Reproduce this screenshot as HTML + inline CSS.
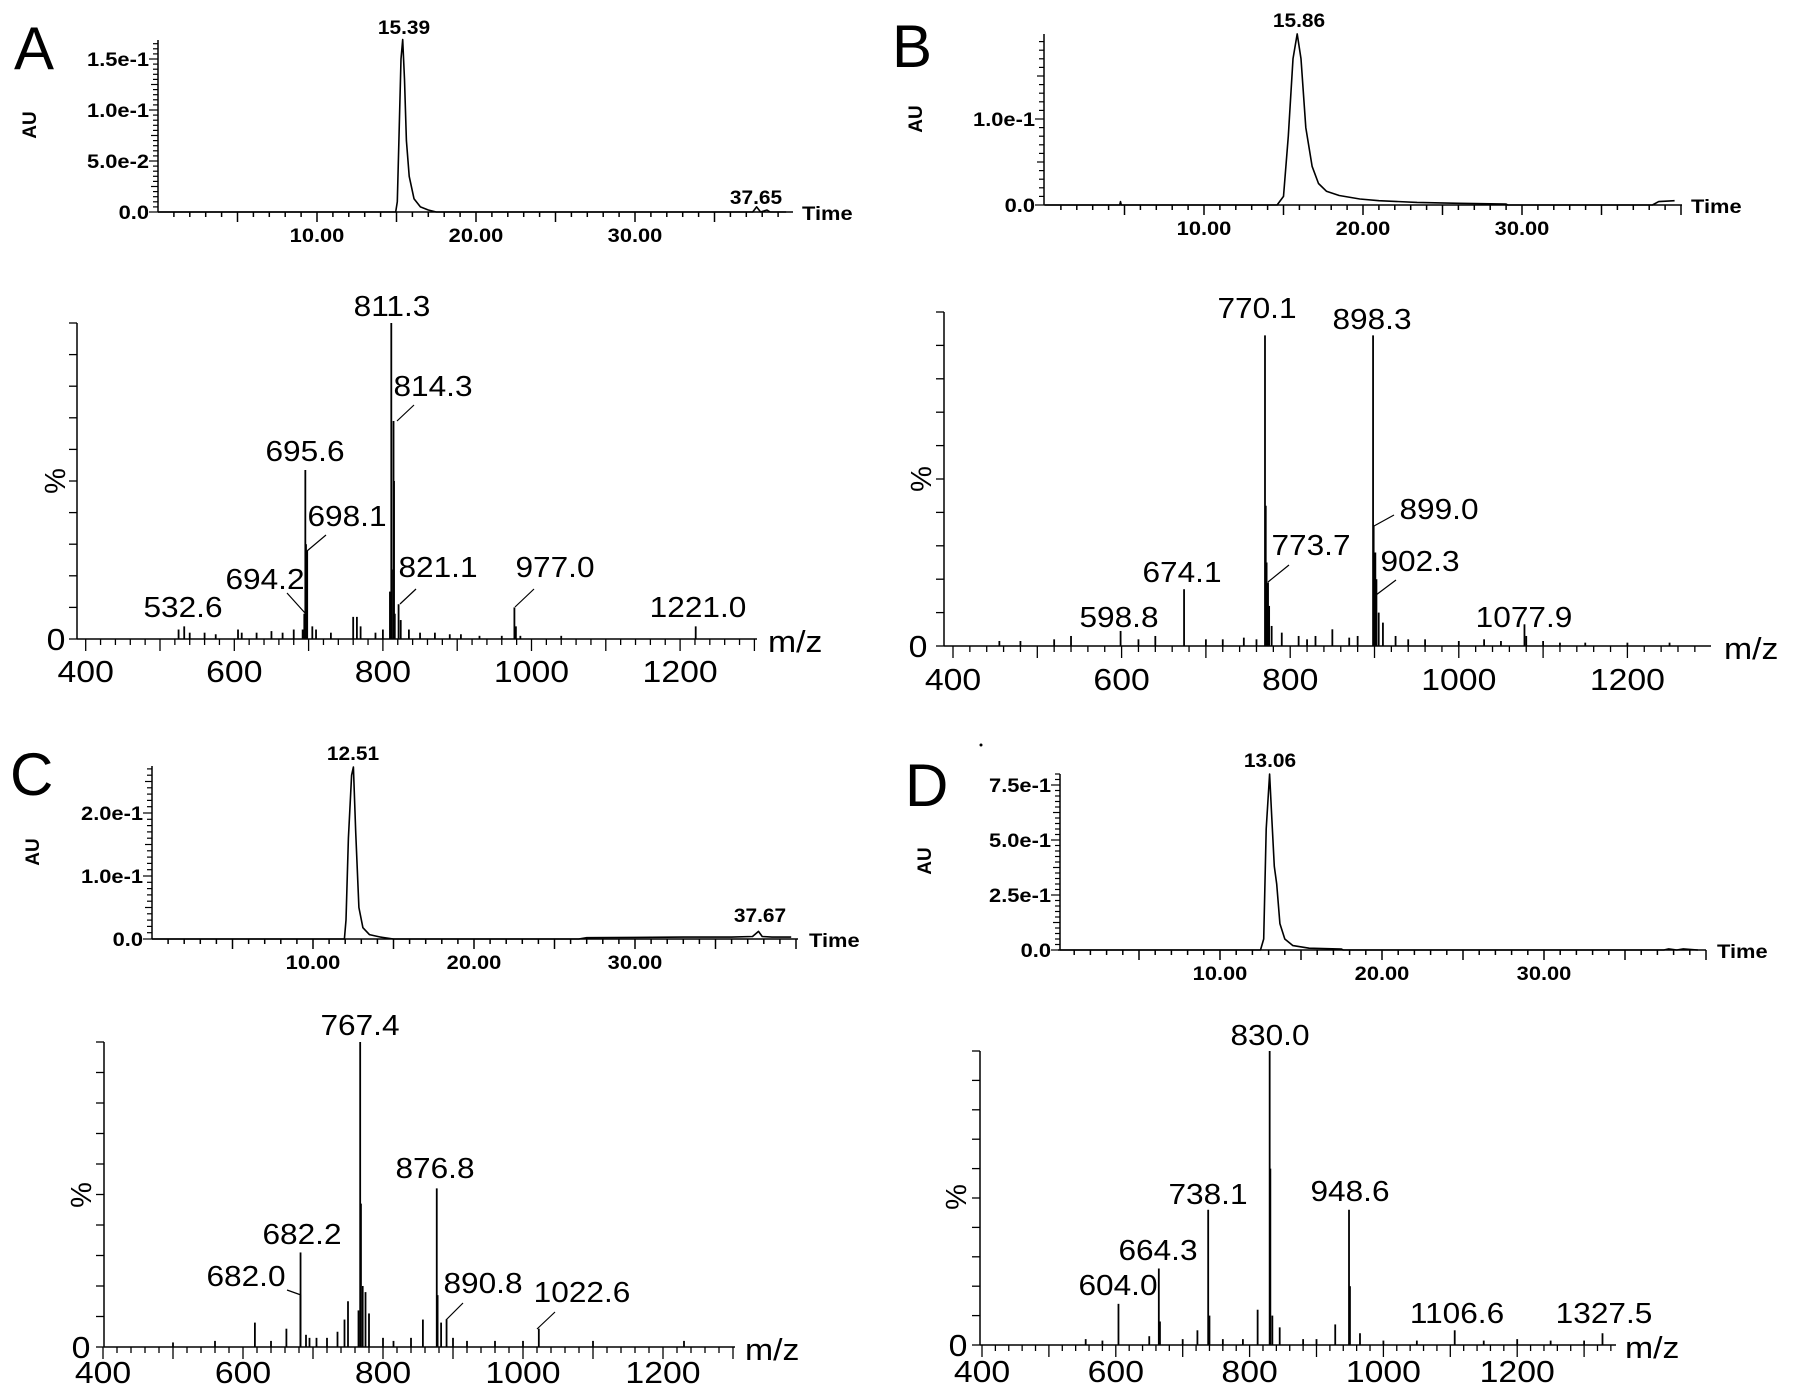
<!DOCTYPE html>
<html><head><meta charset="utf-8"><title>LC-MS panels</title>
<style>
html,body{margin:0;padding:0;background:#fff;}
svg{display:block;font-family:"Liberation Sans",Arial,sans-serif;}
</style></head>
<body>
<svg id="fig" width="1795" height="1396" viewBox="0 0 1795 1396" xmlns="http://www.w3.org/2000/svg">
<rect x="0" y="0" width="1795" height="1396" fill="#fff"/>
</svg>
<script>
// ---------- Chromatogram data (time in min, absorbance in AU) ----------
const chromA_t = [0, 14.95, 15.05, 15.15, 15.28, 15.39, 15.5, 15.62, 15.8, 16.1, 16.5, 17.0, 17.5, 37.4, 37.65, 37.9, 38.3, 38.5, 38.8, 39.5];
const chromA_v = [0, 0, 0.01, 0.07, 0.15, 0.169, 0.13, 0.07, 0.035, 0.013, 0.005, 0.002, 0, 0, 0.005, 0, 0.002, 0, 0, 0];
const chromB_t = [0, 4.7, 4.75, 4.8, 14.6, 15.0, 15.3, 15.6, 15.86, 16.1, 16.4, 16.8, 17.2, 17.7, 18.5, 19.8, 21, 23.4, 26, 29, 29.1, 38.2, 38.6, 39.6];
const chromB_v = [0, 0, 0.004, 0, 0, 0.01, 0.08, 0.17, 0.199, 0.17, 0.09, 0.045, 0.025, 0.016, 0.011, 0.007, 0.005, 0.003, 0.002, 0.001, 0, 0, 0.004, 0.005];
const chromC_t = [0, 11.95, 12.05, 12.2, 12.4, 12.51, 12.65, 12.85, 13.1, 13.5, 14.2, 15, 26.5, 27, 33, 36, 37.3, 37.67, 37.9, 38.5, 39.7];
const chromC_v = [0, 0, 0.03, 0.16, 0.26, 0.273, 0.17, 0.05, 0.018, 0.007, 0.003, 0, 0, 0.002, 0.003, 0.003, 0.004, 0.012, 0.004, 0.003, 0.003];
const chromD_t = [0, 12.5, 12.7, 12.85, 13.06, 13.2, 13.35, 13.5, 13.7, 14, 14.5, 15.5, 17.5, 17.6, 37.4, 37.7, 38.2, 38.6, 39.5];
const chromD_v = [0, 0, 0.05, 0.55, 0.80, 0.6, 0.38, 0.3, 0.12, 0.05, 0.02, 0.008, 0.004, 0, 0, 0.005, 0, 0.005, 0];

// ---------- Mass spectra data (m/z, relative intensity) ----------
const msA_mz = [811.3,812,809.5,814.3,815,816,821.1,824,695.6,696.5,698.1,694.2,692,977.0,979,1221.0,532.6,525,540,560,575,605,610,630,650,665,680,705,710,730,760,765,770,790,800,835,850,870,890,905,930,960,985,1040];
const msA_int = [1.0,0.22,0.15,0.69,0.5,0.08,0.11,0.06,0.535,0.3,0.28,0.08,0.03,0.10,0.04,0.04,0.04,0.03,0.02,0.02,0.015,0.03,0.02,0.02,0.025,0.02,0.03,0.04,0.03,0.02,0.07,0.07,0.04,0.02,0.03,0.03,0.02,0.02,0.015,0.015,0.01,0.01,0.01,0.01];
const msB_mz = [770.1,771,772,773.7,775,778,898.3,899.0,901,902.3,905,910,674.1,598.8,1077.9,1080,850,830,790,540,520,640,700,720,745,760,810,820,870,880,925,940,960,1000,1030,1050,1100,1120,1150,1200,1250,455,480,620];
const msB_int = [0.93,0.42,0.25,0.19,0.12,0.06,0.93,0.36,0.28,0.2,0.1,0.07,0.17,0.045,0.065,0.03,0.05,0.03,0.04,0.03,0.02,0.03,0.02,0.02,0.025,0.02,0.03,0.02,0.025,0.03,0.03,0.02,0.02,0.015,0.02,0.015,0.015,0.01,0.01,0.01,0.01,0.015,0.015,0.02];
const msC_mz = [767.4,768.5,765,775,771,780,750,745,876.8,878,883,890.8,857,1022.6,682.2,682.0,617,662,690,695,735,720,800,815,840,900,920,960,1000,1100,1230,560,500,640,705];
const msC_int = [1.0,0.47,0.12,0.18,0.2,0.11,0.15,0.09,0.52,0.17,0.08,0.09,0.09,0.06,0.31,0.17,0.08,0.06,0.04,0.03,0.05,0.03,0.03,0.02,0.03,0.03,0.02,0.02,0.02,0.02,0.02,0.02,0.015,0.02,0.03];
const msD_mz = [830.0,831,834,845,812,948.6,950,928,965,738.1,740,722,664.3,666,604.0,650,1106.6,1327.5,555,580,700,760,790,880,900,1000,1050,1150,1200,1250,1300];
const msD_int = [1.0,0.6,0.1,0.06,0.12,0.46,0.2,0.07,0.04,0.46,0.1,0.05,0.26,0.08,0.14,0.03,0.05,0.04,0.02,0.015,0.02,0.02,0.02,0.02,0.02,0.015,0.015,0.015,0.02,0.015,0.015];

// ---------- Tick labels ----------
const timeTicks = [10, 20, 30];
const timeTickLabels = ["10.00", "20.00", "30.00"];
const mzTicks = [400, 600, 800, 1000, 1200];
const mzTickLabels = ["400", "600", "800", "1000", "1200"];
const auTicksA = [0, 0.05, 0.1, 0.15];
const auLabelsA = ["0.0", "5.0e-2", "1.0e-1", "1.5e-1"];
const auTicksB = [0, 0.1];
const auLabelsB = ["0.0", "1.0e-1"];
const auTicksC = [0, 0.1, 0.2];
const auLabelsC = ["0.0", "1.0e-1", "2.0e-1"];
const auTicksD = [0, 0.25, 0.5, 0.75];
const auLabelsD = ["0.0", "2.5e-1", "5.0e-1", "7.5e-1"];

const NS = "http://www.w3.org/2000/svg";
const svg = document.getElementById("fig");
function mk(tag, attrs, parent) {
  const e = document.createElementNS(NS, tag);
  for (const k in attrs) e.setAttribute(k, attrs[k]);
  (parent || svg).appendChild(e);
  return e;
}
function line(g, x1, y1, x2, y2, w) {
  return mk("line", {x1, y1, x2, y2, stroke: "#000", "stroke-width": w || 1.5}, g);
}
function boldText(g, str, x, y, anchor, sx) {
  const t = mk("text", {x: 0, y: 0, "font-size": 19, "font-weight": "bold", "text-anchor": anchor || "middle",
    transform: `translate(${x},${y}) scale(${sx || 1.15},1)`}, g);
  t.textContent = str;
  return t;
}
function msText(g, str, x, y, anchor, fs) {
  const t = mk("text", {x: 0, y: 0, "font-size": fs || 29, "text-anchor": anchor || "middle",
    transform: `translate(${x},${y}) scale(1.09,1)`}, g);
  t.textContent = str;
  return t;
}

function drawChrom(key, L, ts, vs, auTicks, auLabels) {
  const g = mk("g", {});
  
  
  const X = t => L.t0 + t * L.ppm;
  const Y = v => L.base - v * L.ppv;
  const ya = line(g, L.ax, L.base, L.ax, L.top);
  
  
  const xa = line(g, L.ax, L.base, L.xEnd, L.base);
  
  
  for (let t = 1; X(t) <= L.xEnd; t++) {
    const len = t % 5 === 0 ? 10 : 5;
    line(g, X(t), L.base, X(t), L.base + len, 1.5);
  }
  timeTicks.forEach((t, i) => {
    const lb = boldText(g, timeTickLabels[i], X(t), L.base + 30);
    
    
  });
  const step = auTicks[1] - auTicks[0];
  for (let k = 0; ; k++) {
    const v = k * step / 10;
    const y = Y(v);
    if (y < L.top - 0.5) break;
    const len = k % 10 === 0 ? 9 : (k % 5 === 0 ? 7 : 5);
    line(g, L.ax - len, y, L.ax, y, 1.2);
  }
  auTicks.forEach((v, i) => {
    const lb = boldText(g, auLabels[i], L.ax - 9, Y(v) + 7, "end");
    
    
  });
  const pts = ts.map((t, i) => X(t).toFixed(1) + "," + Y(vs[i]).toFixed(1)).join(" ");
  const pl = mk("polyline", {points: pts, fill: "none", stroke: "#000", "stroke-width": 1.6, "stroke-linejoin": "round"}, g);
  
  
  const tl = boldText(g, "Time", L.timeX, L.base + 8, "start");
  
  
  const au = mk("text", {x: 0, y: 0, "font-size": 19, "font-weight": "bold", "text-anchor": "middle",
    transform: `translate(${L.auX + 7},${L.auY}) rotate(-90)`}, g);
  au.textContent = "AU";
  
  
  L.peaks.forEach(p => {
    const pt = boldText(g, p[0], p[1], p[2], "middle", 1.1);
    
    
  });
}

function drawMS(key, L, mzs, ints) {
  const g = mk("g", {});
  
  
  const X = m => L.m400 + (m - 400) * L.ppu;
  const Y = v => L.base - v * (L.base - L.top);
  const ya = line(g, L.ax, L.base, L.ax, L.top);
  
  
  const xa = line(g, L.ax, L.base, L.xEnd, L.base);
  
  
  for (let k = 0; k <= 10; k++) {
    const y = L.base - k * (L.base - L.top) / 10;
    line(g, L.ax - 8, y, L.ax, y, 1.3);
  }
  for (let m = 400; X(m) <= L.xEnd + 0.5; m += 20) {
    const len = m % 100 === 0 ? 12 : 6;
    line(g, X(m), L.base, X(m), L.base + len, 1.3);
  }
  mzTicks.forEach((m, i) => {
    const lb = msText(g, mzTickLabels[i], X(m), L.tickY, "middle", 31);
    
    
  });
  mzs.forEach((m, i) => {
    const b = line(g, X(m), L.base, X(m), Y(ints[i]), 1.8);
    
    
  });
  const z = msText(g, "0", L.zeroX, L.base + 11, "middle", 31);
  
  
  const mzl = msText(g, "m/z", L.mzX, L.base + 13, "start", 31);
  
  
  const pc = mk("text", {x: 0, y: 0, "font-size": 29, "text-anchor": "middle",
    transform: `translate(${L.pctX + 10},${L.pctY}) rotate(-90)`}, g);
  pc.textContent = "%";
  
  
  L.labels.forEach(p => {
    const t = msText(g, p[0], p[1], p[2]);
    
    
  });
  L.leaders.forEach(l => line(g, l[0], l[1], l[2], l[3], 1.2));
}

function letter(ch, x, y) {
  const t = mk("text", {x, y, "font-size": 60, "text-anchor": "start"});
  t.textContent = ch;
  
  
}

// Panel A
letter("A", 14, 69);
drawChrom("a", {ax: 158, base: 212, top: 40, t0: 158, ppm: 15.9, ppv: 1020, xEnd: 793, timeX: 802, auX: 29, auY: 125,
  peaks: [["15.39", 404, 34], ["37.65", 756, 204]]}, chromA_t, chromA_v, auTicksA, auLabelsA);
drawMS("a", {ax: 77, base: 639, top: 323, m400: 85.7, ppu: 0.743, xEnd: 757, mzX: 768, zeroX: 56, pctX: 55, pctY: 481, tickY: 682,
  labels: [["811.3",392,316],["814.3",433,396],["695.6",305,461],["698.1",347,526],["694.2",265,589],["821.1",438,577],["977.0",555,577],["532.6",183,617],["1221.0",698,617]],
  leaders: [[397,421,414,405],[307,551,326,535],[287,593,305,613],[400,604,416,589],[515,607,534,589]]}, msA_mz, msA_int);

// Panel B
letter("B", 892, 67);
drawChrom("b", {ax: 1044, base: 205, top: 34, t0: 1045, ppm: 15.9, ppv: 860, xEnd: 1682, timeX: 1691, auX: 915, auY: 119,
  peaks: [["15.86", 1299, 27]]}, chromB_t, chromB_v, auTicksB, auLabelsB);
drawMS("b", {ax: 944, base: 646, top: 312, m400: 953, ppu: 0.843, xEnd: 1711, mzX: 1724, zeroX: 918, pctX: 921, pctY: 479, tickY: 690,
  labels: [["770.1",1257,318],["898.3",1372,329],["899.0",1439,519],["773.7",1311,555],["902.3",1420,571],["674.1",1182,582],["598.8",1119,627],["1077.9",1524,627]],
  leaders: [[1374,526,1394,515],[1268,582,1289,565],[1376,595,1396,580]]}, msB_mz, msB_int);

// Panel C
letter("C", 10, 795);
drawChrom("c", {ax: 152, base: 939, top: 766, t0: 152, ppm: 16.1, ppv: 630, xEnd: 798, timeX: 809, auX: 32, auY: 852,
  peaks: [["12.51", 353, 760], ["37.67", 760, 922]]}, chromC_t, chromC_v, auTicksC, auLabelsC);
drawMS("c", {ax: 104, base: 1347, top: 1042, m400: 103, ppu: 0.7, xEnd: 735, mzX: 745, zeroX: 81, pctX: 81, pctY: 1195, tickY: 1383,
  labels: [["767.4",360,1035],["876.8",435,1178],["682.2",302,1244],["682.0",246,1286],["890.8",483,1293],["1022.6",582,1302]],
  leaders: [[287,1290,301,1295],[446,1320,463,1303],[537,1329,555,1312]]}, msC_mz, msC_int);

// Panel D
letter("D", 905, 806);
mk("circle", {cx: 981, cy: 745, r: 1.5, fill: "#000"});
drawChrom("d", {ax: 1060, base: 950, top: 774, t0: 1058, ppm: 16.2, ppv: 220, xEnd: 1706, timeX: 1717, auX: 924, auY: 861,
  peaks: [["13.06", 1270, 767]]}, chromD_t, chromD_v, auTicksD, auLabelsD);
drawMS("d", {ax: 980, base: 1345, top: 1051, m400: 982, ppu: 0.669, xEnd: 1616, mzX: 1625, zeroX: 958, pctX: 956, pctY: 1197, tickY: 1382,
  labels: [["830.0",1270,1045],["948.6",1350,1201],["738.1",1208,1204],["664.3",1158,1260],["604.0",1118,1295],["1106.6",1457,1323],["1327.5",1604,1323]],
  leaders: []}, msD_mz, msD_int);
</script>
</body></html>
